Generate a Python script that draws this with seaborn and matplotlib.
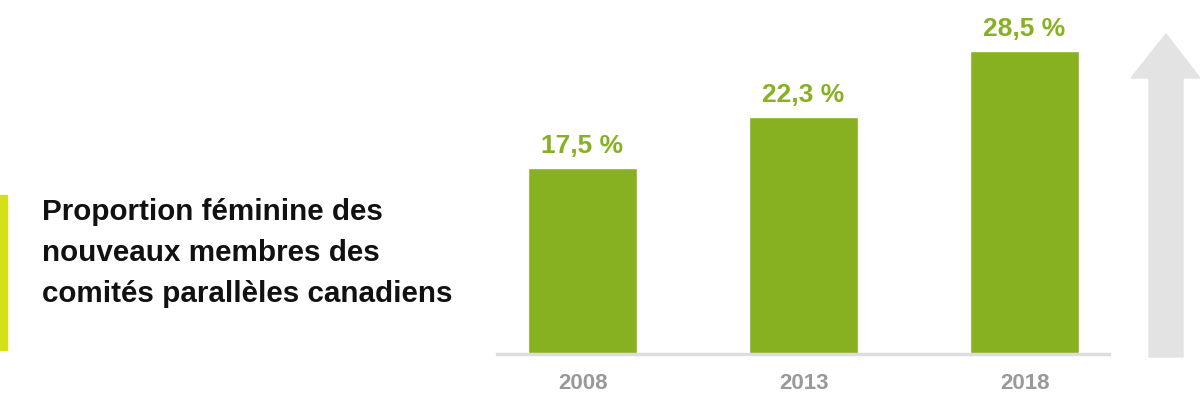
import numpy as np
import pandas as pd
import matplotlib.pyplot as plt
import seaborn as sns
from matplotlib.patches import Polygon, Rectangle

years = ['2008', '2013', '2018']
shares = [17.5, 22.3, 28.5]
labels = ['17,5 %', '22,3 %', '28,5 %']
title = 'Proportion féminine des\nnouveaux membres des\ncomités parallèles canadiens'

green = '#87b121'
df = pd.DataFrame({'annee': years, 'part': shares})

sns.set_style('white')
plt.rcParams['font.family'] = ['Liberation Sans', 'DejaVu Sans']

W, H = 1200, 407
fig = plt.figure(figsize=(12, 4.07), dpi=100)
# axes box in pixels: x 497-1109, y 20-354 (from top)
ax = fig.add_axes([497 / W, 1 - 354 / H, (1109 - 497) / W, (354 - 20) / H])
sns.barplot(data=df, x='annee', y='part', color=green, width=0.49,
            saturation=1, ax=ax)
ax.set_xlim(-0.387, 2.382)
ax.set_ylim(0, 31.4)
for i, (v, t) in enumerate(zip(shares, labels)):
    ax.text(i, v + 1.35, t, ha='center', va='baseline', color=green,
            fontsize=19, fontweight='bold')

sns.despine(ax=ax, left=True)
ax.spines['bottom'].set_color('#dddddd')
ax.spines['bottom'].set_linewidth(2.5)
ax.set_yticks([])
ax.set_xlabel('')
ax.set_ylabel('')
ax.tick_params(axis='x', length=0, pad=14, labelsize=16, labelcolor='#999999')
for lab in ax.get_xticklabels():
    lab.set_fontweight('bold')
ax.patch.set_alpha(0)

# left accent bar and title
fig.patches.append(Rectangle((0, 1 - 350 / H), 7 / W, 155 / H,
                             transform=fig.transFigure, color='#d5e118'))
fig.text(42 / W, 1 - 253 / H, title, ha='left', va='center', fontsize=21.3,
         fontweight='bold', color='#111111', linespacing=1.6)

# grey upward arrow
pts = [(1149, 357), (1183, 357), (1183, 78), (1200, 78), (1166, 34),
       (1131, 78), (1149, 78)]
fig.patches.append(Polygon([(x / W, 1 - y / H) for x, y in pts], closed=True,
                           transform=fig.transFigure, color='#e3e3e3'))

fig.savefig('out.png', dpi=100)
